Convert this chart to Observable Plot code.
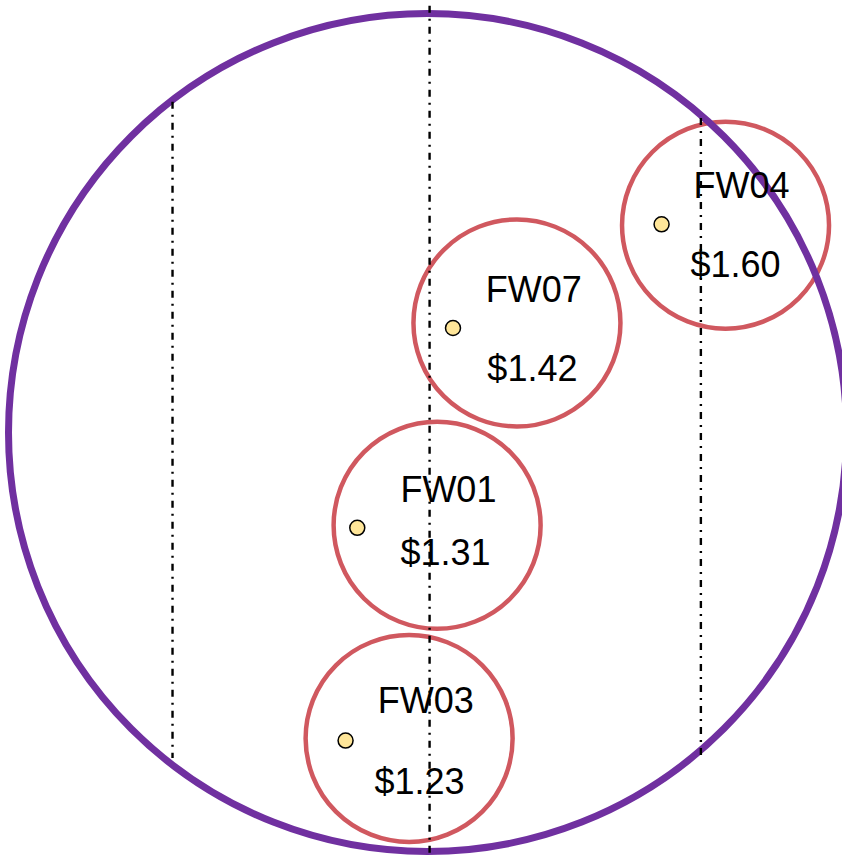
<!DOCTYPE html>
<html>
<head>
<meta charset="utf-8">
<script src="https://cdn.jsdelivr.net/npm/d3@7"></script>
<script src="https://cdn.jsdelivr.net/npm/@observablehq/plot@0.6"></script>
<style>
  html, body { margin: 0; padding: 0; background: #fff; }
  #chart svg { display: block; }
</style>
</head>
<body>
<div id="chart"></div>
<script>
// Units: outer circle centred at (0,0) with radius 1
const names = ["FW04", "FW07", "FW01", "FW03"];
const prices = [1.60, 1.42, 1.31, 1.23];
const circleX = [0.713, 0.214, 0.023, -0.044];
const circleY = [0.496, 0.262, -0.222, -0.732];
const pointX = [0.560, 0.061, -0.168, -0.196];
const pointY = [0.498, 0.250, -0.228, -0.737];
const nameX = [0.751, 0.254, 0.050, -0.004];
const nameY = [0.560, 0.313, -0.167, -0.672];
const priceX = [0.737, 0.251, 0.043, -0.019];
const priceY = [0.372, 0.124, -0.318, -0.866];

const guideX = [-0.610, 0.005, 0.654];
const guideTop = [0.790, 1.020, 0.751];
const guideBottom = [-0.780, -1.014, -0.780];

const outer = [{x: 0, y: 0}];
const items = names.map((n, i) => ({
  name: n, price: prices[i],
  cx: circleX[i], cy: circleY[i],
  px: pointX[i], py: pointY[i],
  nx: nameX[i], ny: nameY[i],
  vx: priceX[i], vy: priceY[i]
}));
const guides = guideX.map((x, i) => ({x, y1: guideTop[i], y2: guideBottom[i]}));

const chart = Plot.plot({
  width: 842,
  height: 859,
  margin: 0,
  style: {background: "#fff", fontFamily: "'Liberation Sans', Arial, sans-serif"},
  x: {domain: [-1, 1], range: [9, 845], axis: null},
  y: {domain: [-1, 1], range: [850, 14], axis: null},
  marks: [
    Plot.dot(items, {x: "cx", y: "cy", r: 103.5, stroke: "#d0585f", strokeWidth: 4.5, fill: "none"}),
    Plot.dot(outer, {x: "x", y: "y", r: 419, stroke: "#7030a0", strokeWidth: 7, fill: "none"}),
    Plot.dot(items, {x: "px", y: "py", r: 7.5, fill: "#ffe699", stroke: "#000", strokeWidth: 1.5}),
    Plot.text(items, {x: "nx", y: "ny", text: "name", fontSize: 36, fill: "#000", lineAnchor: "bottom", textAnchor: "middle"}),
    Plot.text(items, {x: "vx", y: "vy", text: d => "$" + d.price.toFixed(2), fontSize: 36, fill: "#000", lineAnchor: "bottom", textAnchor: "middle"}),
    Plot.ruleX(guides, {x: "x", y1: "y1", y2: "y2", stroke: "#000", strokeWidth: 2.4, strokeDasharray: "7,6,2,6"})
  ]
});
document.getElementById("chart").appendChild(chart);
</script>
</body>
</html>
